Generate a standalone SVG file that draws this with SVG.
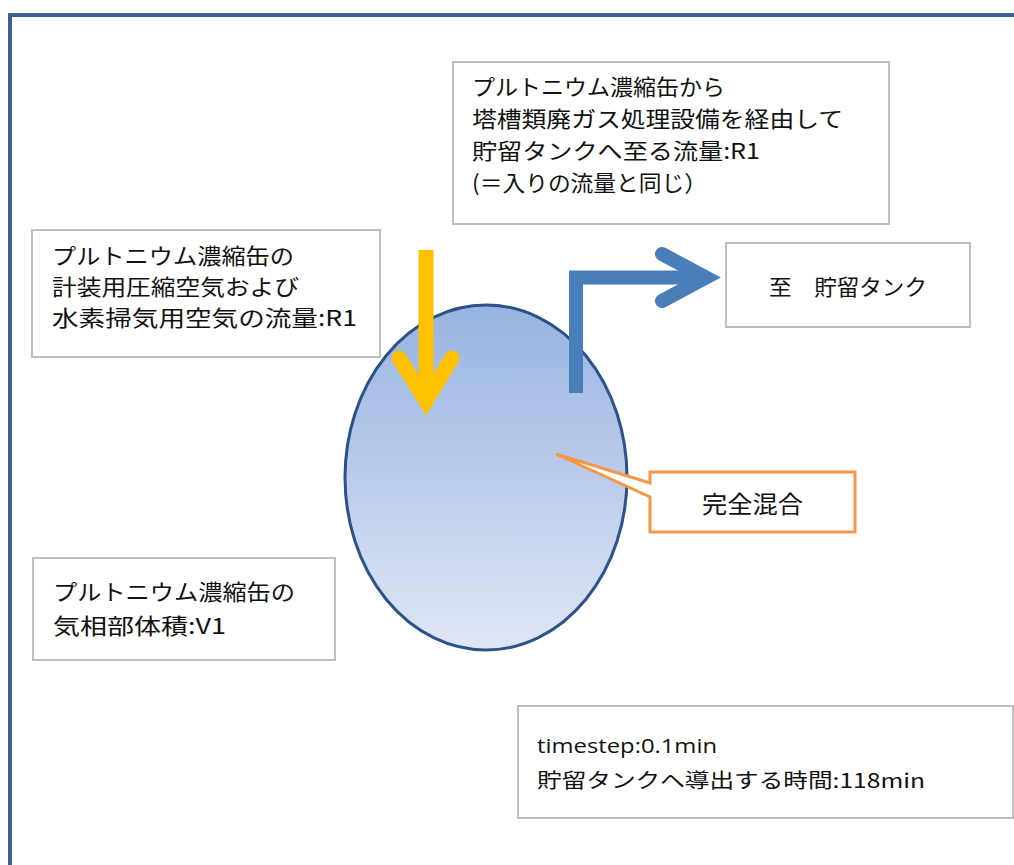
<svg xmlns="http://www.w3.org/2000/svg" width="1014" height="865" viewBox="0 0 1014 865">
<defs>
<linearGradient id="tankFill" x1="0" y1="0" x2="0" y2="1">
<stop offset="0" stop-color="#98b3e0"/>
<stop offset="1" stop-color="#dfe6f5"/>
</linearGradient>
<style>
.box{fill:#ffffff;stroke:#bfbfbf;stroke-width:2}
.t{font-family:"Noto Sans CJK JP","Noto Sans",sans-serif;font-size:22px;fill:#111111}
.tl{font-family:"Open Sans","Noto Sans CJK JP",sans-serif;font-size:20px;fill:#111111}
.tj{font-family:"Noto Sans CJK JP",sans-serif;font-size:20px;fill:#111111}
</style>
</defs>
<rect x="0" y="0" width="1014" height="865" fill="#ffffff"/>
<rect id="frame" x="10" y="15" width="1030" height="880" fill="none" stroke="#3c6291" stroke-width="4"/>

<g id="tank">
<ellipse cx="486" cy="477.5" rx="141" ry="172.5" fill="url(#tankFill)" stroke="#2d5288" stroke-width="3"/>
</g>

<g id="connectors">
<g id="inflow" fill="none" stroke="#ffc000" stroke-width="15">
<path d="M426,250 V398"/>
<path d="M399,358 L426,401 L452,358" stroke-linecap="round" stroke-linejoin="miter"/>
</g>
<g id="outflow" fill="none" stroke="#4a7ebb" stroke-width="14">
<path d="M576,393 V277.5 H708" stroke-linejoin="miter"/>
<path d="M662,254 L706,277.5 L662,301" stroke-linecap="round" stroke-linejoin="miter"/>
</g>
</g>

<g id="callout-mix">
<path d="M650,472 H855 V532 H650 V497 L556,454 L650,483 Z" fill="#ffffff" stroke="#f79646" stroke-width="3" stroke-linejoin="miter"/>
<text class="t" x="702" y="513" textLength="101" lengthAdjust="spacingAndGlyphs" style="font-size:24px">完全混合</text>
</g>

<g id="box-outflow-rate">
<rect class="box" x="453" y="62" width="436" height="162"/>
<text class="t" x="472" y="94.5" textLength="253" lengthAdjust="spacingAndGlyphs">プルトニウム濃縮缶から</text>
<text class="t" x="472" y="127" textLength="371" lengthAdjust="spacingAndGlyphs">塔槽類廃ガス処理設備を経由して</text>
<text class="t" x="472" y="159" textLength="288" lengthAdjust="spacingAndGlyphs">貯留タンクへ至る流量:R1</text>
<text class="t" x="472" y="191" textLength="235" lengthAdjust="spacingAndGlyphs">(＝入りの流量と同じ）</text>
</g>

<g id="box-inflow-rate">
<rect class="box" x="32" y="230" width="348" height="127"/>
<text class="t" x="52" y="263.5" textLength="242" lengthAdjust="spacingAndGlyphs">プルトニウム濃縮缶の</text>
<text class="t" x="52" y="295" textLength="247" lengthAdjust="spacingAndGlyphs">計装用圧縮空気および</text>
<text class="t" x="52" y="326" textLength="305" lengthAdjust="spacingAndGlyphs">水素掃気用空気の流量:R1</text>
</g>

<g id="box-storage-tank">
<rect class="box" x="726" y="243" width="244" height="84"/>
<text class="t" x="769" y="295" textLength="158" lengthAdjust="spacingAndGlyphs">至　貯留タンク</text>
</g>

<g id="box-volume">
<rect class="box" x="33" y="558" width="302" height="102"/>
<text class="t" x="53" y="599.5" textLength="242" lengthAdjust="spacingAndGlyphs">プルトニウム濃縮缶の</text>
<text class="t" x="53" y="633.5" textLength="173" lengthAdjust="spacingAndGlyphs">気相部体積:V1</text>
</g>

<g id="box-timestep">
<rect class="box" x="518" y="706" width="495" height="112"/>
<text class="tl" x="537" y="753" textLength="180" lengthAdjust="spacingAndGlyphs">timestep:0.1min</text>
<text class="tj" x="537" y="787.5" textLength="388" lengthAdjust="spacingAndGlyphs">貯留タンクへ導出する時間:118min</text>
</g>
</svg>
